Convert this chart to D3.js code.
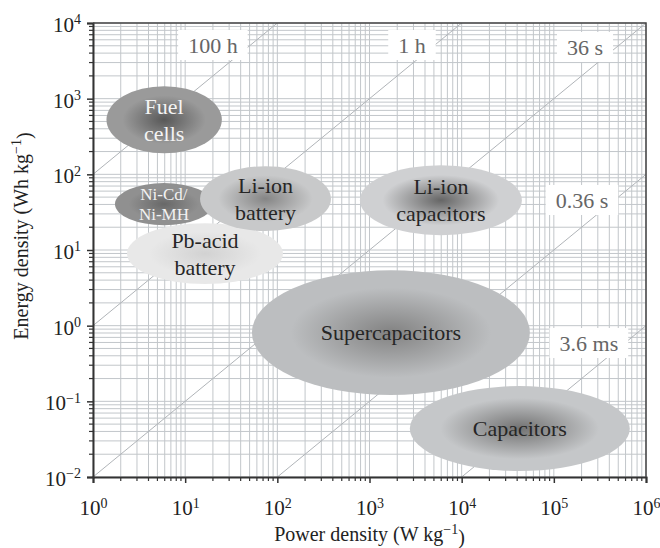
<!DOCTYPE html>
<html>
<head>
<meta charset="utf-8">
<script src="https://cdn.jsdelivr.net/npm/d3@7/dist/d3.min.js"></script>
<style>
  body { margin: 0; background: #fff; }
  text { font-family: "Liberation Serif", "DejaVu Serif", serif; }
</style>
</head>
<body>
<svg id="chart"></svg>
<script>
// Ragone plot data
var techNames = ["Pb-acid battery", "Ni-Cd/Ni-MH", "Fuel cells", "Li-ion battery",
                 "Li-ion capacitors", "Supercapacitors", "Capacitors"];
var techLines = [["Pb-acid", "battery"], ["Ni-Cd/", "Ni-MH"], ["Fuel", "cells"],
                 ["Li-ion", "battery"], ["Li-ion", "capacitors"], ["Supercapacitors"], ["Capacitors"]];
// power density range, W/kg
var powerRange = [[2.34, 115], [1.73, 20], [1.4, 25], [14.5, 382],
                  [787, 45000], [53, 55000], [2740, 667000]];
// energy density range, Wh/kg
var energyRange = [[3.55, 22.6], [21.3, 76.6], [190, 1460], [17.8, 128],
                   [15.7, 132], [0.121, 5.4], [0.012, 0.159]];

// lines of constant discharge time (hours) and their labels
var hours = [100, 1, 0.01, 1e-4, 1e-6];
var timeLabels = ["100 h", "1 h", "36 s", "0.36 s", "3.6 ms"];
var labelPower = [20, 2890, 218000, 202000, 240000];
var labelEnergy = [5120, 5120, 4820, 45.8, 0.59];

var xTicks = [1e0, 1e1, 1e2, 1e3, 1e4, 1e5, 1e6];
var yTicks = [1e-2, 1e-1, 1e0, 1e1, 1e2, 1e3, 1e4];
var xExp = ["0", "1", "2", "3", "4", "5", "6"];
var yExp = ["\u22122", "\u22121", "0", "1", "2", "3", "4"];

// styles
var fills = [["#d2d2d2", "#e8e8e8"], ["#686868", "#909090"], ["#585858", "#9a9a9a"],
             ["#858585", "#c8c9ca"], ["#666666", "#cfd0d2"], ["#828282", "#bcbec0"],
             ["#727272", "#c5c7c9"]];
var textColors = ["#262626", "#f2f2f2", "#f4f4f4", "#262626", "#262626", "#262626", "#262626"];
var textSizes = [22, 17, 22, 22, 22, 22, 22];

var width = 660, height = 548;
var margin = {left: 93, right: 14, top: 23, bottom: 71};

var svg = d3.select('#chart')
    .attr('width', width)
    .attr('height', height);

var x = d3.scaleLog().domain([1, 1e6]).range([margin.left, width - margin.right]);
var y = d3.scaleLog().domain([1e-2, 1e4]).range([height - margin.bottom, margin.top]);

var minorX = [], minorY = [];
xTicks.slice(0, -1).forEach(d => d3.range(2, 10).forEach(k => minorX.push(d * k)));
yTicks.slice(0, -1).forEach(d => d3.range(2, 10).forEach(k => minorY.push(d * k)));

svg.append('defs').append('clipPath').attr('id', 'plot')
  .append('rect')
    .attr('x', x(1)).attr('y', y(1e4))
    .attr('width', x(1e6) - x(1)).attr('height', y(1e-2) - y(1e4));

// grid
var grid = svg.append('g').attr('stroke', '#c2c6ca').attr('stroke-width', 1);
grid.selectAll('.gx')
  .data(minorX.concat(xTicks))
  .enter().append('line')
    .attr('x1', d => x(d)).attr('x2', d => x(d))
    .attr('y1', y(1e-2)).attr('y2', y(1e4));
grid.selectAll('.gy')
  .data(minorY.concat(yTicks))
  .enter().append('line')
    .attr('y1', d => y(d)).attr('y2', d => y(d))
    .attr('x1', x(1)).attr('x2', x(1e6));

// constant time diagonals
var diag = d3.line().x(d => x(d[0])).y(d => y(d[1]));
svg.append('g').attr('clip-path', 'url(#plot)')
  .selectAll('path')
  .data(hours)
  .enter().append('path')
    .attr('d', t => diag([[1, t], [1e6, t * 1e6]]))
    .attr('fill', 'none')
    .attr('stroke', '#b0b4b8')
    .attr('stroke-width', 1);

// time labels on white boxes
var tl = svg.append('g').selectAll('g')
  .data(timeLabels)
  .enter().append('g')
    .attr('transform', (d, i) => 'translate(' + x(labelPower[i]) + ',' + y(labelEnergy[i]) + ')');
tl.append('text')
    .attr('text-anchor', 'middle')
    .attr('dy', '0.35em')
    .attr('font-size', 22)
    .attr('fill', '#666')
    .text(d => d)
    .each(function() {
      var b = this.getBBox();
      d3.select(this.parentNode).insert('rect', 'text')
        .attr('x', b.x - 10).attr('y', -15)
        .attr('width', b.width + 20).attr('height', 30)
        .attr('fill', '#fff');
    });

// gradients + ellipses
var defs = svg.select('defs');
techNames.forEach(function(name, i) {
  var g = defs.append('radialGradient').attr('id', 'grad' + i);
  g.append('stop').attr('offset', '0%').attr('stop-color', fills[i][0]);
  g.append('stop').attr('offset', '72%').attr('stop-color', fills[i][1]);
  g.append('stop').attr('offset', '100%').attr('stop-color', fills[i][1]);
});

var order = d3.range(techNames.length);
svg.append('g').selectAll('ellipse')
  .data(order)
  .enter().append('ellipse')
    .attr('cx', i => (x(powerRange[i][0]) + x(powerRange[i][1])) / 2)
    .attr('cy', i => (y(energyRange[i][0]) + y(energyRange[i][1])) / 2)
    .attr('rx', i => (x(powerRange[i][1]) - x(powerRange[i][0])) / 2)
    .attr('ry', i => (y(energyRange[i][0]) - y(energyRange[i][1])) / 2)
    .attr('fill', i => 'url(#grad' + i + ')');

// ellipse labels
svg.append('g').selectAll('text')
  .data(order)
  .enter().append('text')
    .attr('text-anchor', 'middle')
    .attr('font-size', i => textSizes[i])
    .attr('fill', i => textColors[i])
    .attr('transform', i => 'translate(' + (x(powerRange[i][0]) + x(powerRange[i][1])) / 2 + ',' +
                                        (y(energyRange[i][0]) + y(energyRange[i][1])) / 2 + ')')
    .each(function(i) {
      var lines = techLines[i], lh = textSizes[i] * 1.22;
      d3.select(this).selectAll('tspan')
        .data(lines)
        .enter().append('tspan')
          .attr('x', 0)
          .attr('y', (d, k) => (k - (lines.length - 1) / 2) * lh)
          .attr('dy', '0.35em')
          .text(d => d);
    });

// axes
function supLabels(sel, exps) {
  sel.selectAll('.tick text').each(function(d, i) {
    var t = d3.select(this).text('10');
    t.append('tspan').attr('dy', '-0.55em').attr('font-size', 14).text(exps[i]);
  });
}

var xAxis = svg.append('g')
    .attr('transform', 'translate(0,' + y(1e-2) + ')')
    .call(d3.axisBottom(x).tickValues(xTicks).tickSize(6).tickFormat(() => ''));
xAxis.selectAll('.tick text').attr('font-size', 21).attr('fill', '#222').attr('dy', '1.4em');
supLabels(xAxis, xExp);

var yAxis = svg.append('g')
    .attr('transform', 'translate(' + x(1) + ',0)')
    .call(d3.axisLeft(y).tickValues(yTicks).tickSize(6).tickFormat(() => ''));
yAxis.selectAll('.tick text').attr('font-size', 21).attr('fill', '#222').attr('x', -12).attr('dy', '0.4em');
supLabels(yAxis, yExp);

[xAxis, yAxis].forEach(a => {
  a.select('.domain').attr('stroke', '#333').attr('stroke-width', 2);
  a.selectAll('.tick line').attr('stroke', '#333').attr('stroke-width', 1.5);
  a.attr('font-family', null);
});

// minor ticks
svg.append('g').selectAll('line')
  .data(minorX)
  .enter().append('line')
    .attr('x1', d => x(d)).attr('x2', d => x(d))
    .attr('y1', y(1e-2)).attr('y2', y(1e-2) + 4)
    .attr('stroke', '#333').attr('stroke-width', 1.2);
svg.append('g').selectAll('line')
  .data(minorY)
  .enter().append('line')
    .attr('y1', d => y(d)).attr('y2', d => y(d))
    .attr('x1', x(1)).attr('x2', x(1) - 4)
    .attr('stroke', '#333').attr('stroke-width', 1.2);

// top/right frame
svg.append('path')
    .attr('d', 'M' + x(1) + ',' + y(1e4) + 'H' + x(1e6) + 'V' + y(1e-2))
    .attr('fill', 'none').attr('stroke', '#444').attr('stroke-width', 1.5);

// axis titles
var xt = svg.append('text')
    .attr('x', (x(1) + x(1e6)) / 2).attr('y', 541)
    .attr('text-anchor', 'middle').attr('font-size', 20).attr('fill', '#222')
    .text('Power density (W kg');
xt.append('tspan').attr('dy', '-0.5em').attr('font-size', 14).text('\u22121');
xt.append('tspan').attr('dy', '0.5em').text(')');

var yt = svg.append('text')
    .attr('transform', 'translate(28,' + 236 + ') rotate(-90)')
    .attr('text-anchor', 'middle').attr('font-size', 20).attr('fill', '#222')
    .text('Energy density (Wh kg');
yt.append('tspan').attr('dy', '-0.5em').attr('font-size', 14).text('\u22121');
yt.append('tspan').attr('dy', '0.5em').text(')');
</script>
</body>
</html>
